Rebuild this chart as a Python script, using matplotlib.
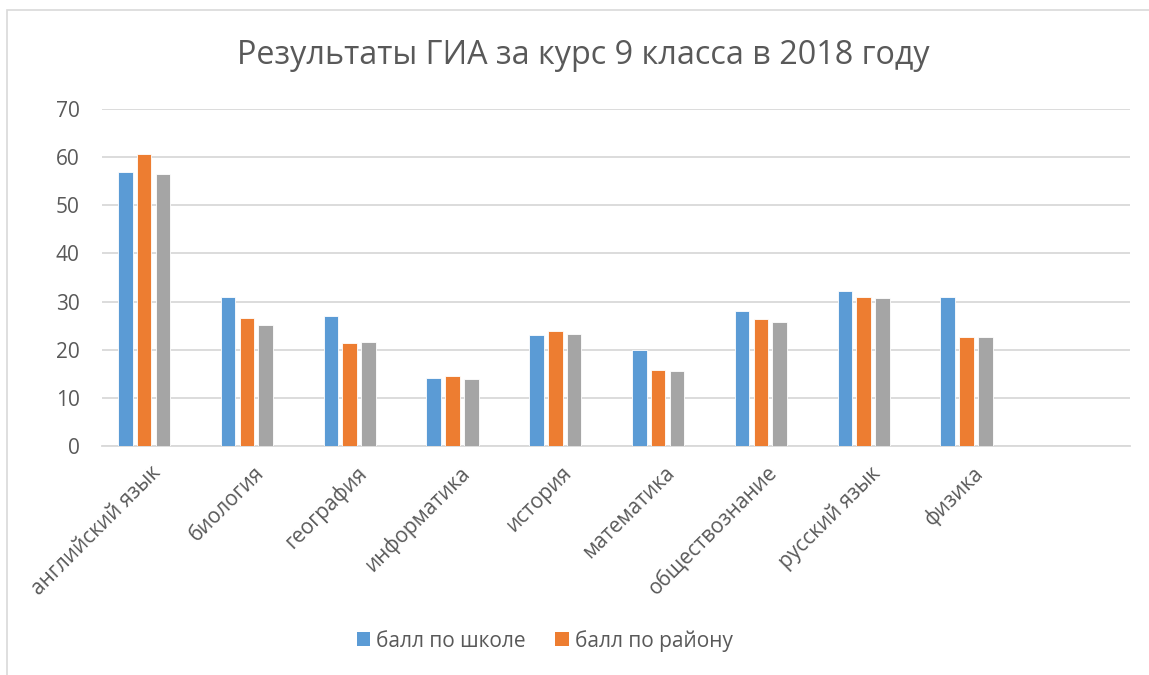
import matplotlib.pyplot as plt
from matplotlib.patches import Patch, Rectangle
import numpy as np

plt.rcParams['font.family'] = ['Open Sans', 'DejaVu Sans']

subjects = ['английский язык', 'биология', 'география', 'информатика', 'история',
            'математика', 'обществознание', 'русский язык', 'физика']
school = [57.0, 31.0, 27.0, 14.1, 23.0, 20.0, 28.0, 32.1, 31.0]
district = [60.6, 26.6, 21.4, 14.6, 23.8, 15.7, 26.4, 31.0, 22.7]
third = [56.6, 25.2, 21.7, 14.0, 23.3, 15.6, 25.8, 30.8, 22.7]

title = 'Результаты ГИА за курс 9 класса в 2018 году'
names = ['балл по школе', 'балл по району']
colors = ['#5B9BD5', '#ED7D31', '#A5A5A5']
text_color = '#595959'
grid_color = '#D9D9D9'

fig = plt.figure(figsize=(11.49, 6.75), dpi=100)
ax = fig.add_axes([0.0888, 0.3393, 0.8947, 0.4992])

x = np.arange(len(subjects))
pitch = 0.1824
width = 0.142
# four series slots in each group, the fourth one is empty
for k, vals in enumerate([school, district, third]):
    ax.bar(x + (k - 1.5) * pitch, vals, width, color=colors[k],
           edgecolor='white', linewidth=0.6, zorder=3)

ax.set_xlim(-0.5, 9.5)
ax.set_ylim(0, 70)
ax.set_yticks(range(0, 71, 10))
ax.yaxis.grid(True, color=grid_color, linewidth=1.3, zorder=0)
for s in ['top', 'right', 'left']:
    ax.spines[s].set_visible(False)
ax.spines['bottom'].set_color(grid_color)
ax.spines['bottom'].set_linewidth(1.3)
ax.tick_params(axis='both', length=0, colors=text_color, labelsize=15)
ax.tick_params(axis='y', pad=16)

ax.set_xticks(x - 0.03)
ax.set_xticklabels(subjects, rotation=45, ha='right', va='top',
                   rotation_mode='anchor', color=text_color, fontsize=15)
ax.tick_params(axis='x', pad=12)

fig.text(0.508, 0.918, title, ha='center', va='center', fontsize=23.3,
         color=text_color)

handles = [Patch(facecolor=colors[i], edgecolor='none') for i in range(2)]
fig.legend(handles, names, loc='center', bbox_to_anchor=(0.474, 0.051),
           ncol=2, frameon=False, fontsize=15, labelcolor=text_color,
           handlelength=0.65, handleheight=0.65, handletextpad=0.3,
           columnspacing=1.4)

fig.add_artist(Rectangle((7 / 1149, -0.1), 2, 1 - 10 / 675 + 0.1,
                         transform=fig.transFigure, fill=False,
                         edgecolor=grid_color, linewidth=1.2))

plt.savefig('out.png', dpi=100)
